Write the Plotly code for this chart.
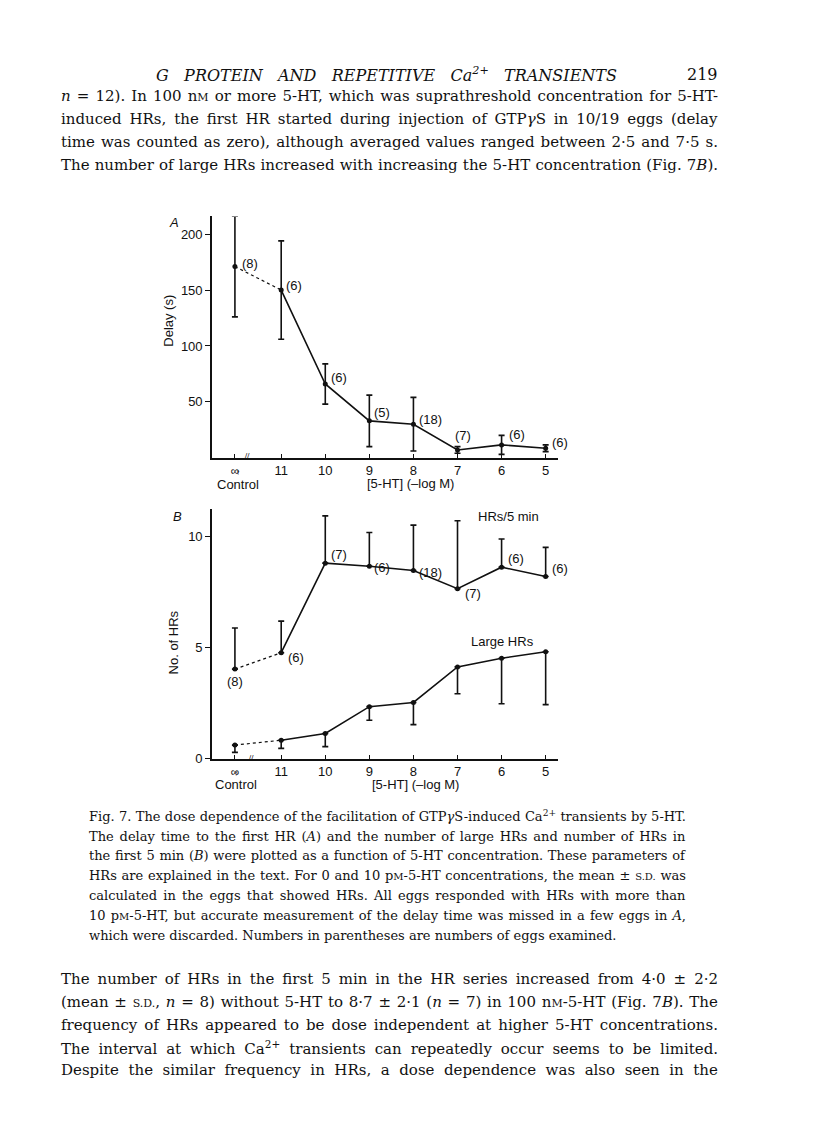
import json
import plotly.graph_objects as go

W, H = 816, 1141

# ---------------- data ----------------
x_pos = [12.05, 11, 10, 9, 8, 7, 6, 5]
x_ticktext = ["<span style='font-size:12px'>∞</span>", "11", "10", "9", "8", "7", "6", "5"]

delay_mean = [171, 150, 66, 33, 30, 7, 11.5, 8.5]
delay_sd = [45, 44, 18, 23, 24, 3, 8.5, 3]
delay_n = ["(8)", "(6)", "(6)", "(5)", "(18)", "(7)", "(6)", "(6)"]

hrs_mean = [4.03, 4.77, 8.80, 8.66, 8.47, 7.65, 8.62, 8.20]
hrs_sd = [1.85, 1.42, 2.13, 1.52, 2.04, 3.06, 1.27, 1.31]
hrs_n = ["(8)", "(6)", "(7)", "(6)", "(18)", "(7)", "(6)", "(6)"]

large_mean = [0.61, 0.83, 1.13, 2.34, 2.53, 4.13, 4.52, 4.81]
large_sd = [0.33, 0.37, 0.59, 0.61, 1.00, 1.21, 2.05, 2.38]

# label offsets (px) : (xshift, yshift, xanchor)
offA = [(5, 3, "left"), (3, 5, "left"), (4, 6, "left"), (3, 8, "left"),
        (4, 5, "left"), (5, 14, "center"), (5, 10, "left"), (4, 6, "left")]
offB = [(0, -12, "center"), (5, -5, "left"), (4, 9, "left"), (3, -1, "left"),
        (4, -2, "left"), (5, -5, "left"), (4, 9, "left"), (4, 8, "left")]

INK = "#111"
SANS = "Liberation Sans"
SERIF = "DejaVu Serif"


def px(x):
    return x / W


def py(y):
    return 1 - y / H


fig = go.Figure()

# ---------------- panel A ----------------
line_style = dict(color=INK, width=1.6)
fig.add_trace(go.Scatter(x=x_pos[:2], y=delay_mean[:2], mode="lines",
                         line=dict(color=INK, width=1.2, dash="dot"),
                         xaxis="x", yaxis="y", showlegend=False))
fig.add_trace(go.Scatter(x=x_pos[1:], y=delay_mean[1:], mode="lines",
                         line=line_style, xaxis="x", yaxis="y", showlegend=False))
fig.add_trace(go.Scatter(x=x_pos, y=delay_mean, mode="markers",
                         marker=dict(color=INK, size=5),
                         error_y=dict(type="data", array=delay_sd, visible=True,
                                      color=INK, thickness=1.6, width=3),
                         xaxis="x", yaxis="y", showlegend=False))

# ---------------- panel B ----------------
for ys in (hrs_mean, large_mean):
    fig.add_trace(go.Scatter(x=x_pos[:2], y=ys[:2], mode="lines",
                             line=dict(color=INK, width=1.2, dash="dot"),
                             xaxis="x2", yaxis="y2", showlegend=False))
    fig.add_trace(go.Scatter(x=x_pos[1:], y=ys[1:], mode="lines",
                             line=line_style, xaxis="x2", yaxis="y2", showlegend=False))
fig.add_trace(go.Scatter(x=x_pos, y=hrs_mean, mode="markers",
                         marker=dict(color=INK, size=5),
                         error_y=dict(type="data", symmetric=False, array=hrs_sd,
                                      arrayminus=[0] * len(hrs_sd), visible=True,
                                      color=INK, thickness=1.6, width=3),
                         xaxis="x2", yaxis="y2", showlegend=False))
fig.add_trace(go.Scatter(x=x_pos, y=large_mean, mode="markers",
                         marker=dict(color=INK, size=5),
                         error_y=dict(type="data", symmetric=False, array=[0] * len(large_sd),
                                      arrayminus=large_sd, visible=True,
                                      color=INK, thickness=1.6, width=3),
                         xaxis="x2", yaxis="y2", showlegend=False))

ann = []
for i, t in enumerate(delay_n):
    xs, ys_, xa = offA[i]
    ann.append(dict(x=x_pos[i], y=delay_mean[i], xref="x", yref="y", text=t,
                    showarrow=False, xanchor=xa, yanchor="middle", xshift=xs, yshift=ys_,
                    font=dict(family=SANS, size=13, color=INK)))
for i, t in enumerate(hrs_n):
    xs, ys_, xa = offB[i]
    ann.append(dict(x=x_pos[i], y=hrs_mean[i], xref="x2", yref="y2", text=t,
                    showarrow=False, xanchor=xa, yanchor="middle", xshift=xs, yshift=ys_,
                    font=dict(family=SANS, size=13, color=INK)))

axis_font = dict(family=SANS, size=13, color=INK)
xdom = [px(212), px(558)]
xr = [12.57, 4.72]
common_x = dict(range=xr, tickvals=x_pos, ticktext=x_ticktext, showline=True,
                linecolor=INK, linewidth=1.8, ticks="inside", ticklen=4, tickcolor=INK,
                tickfont=axis_font, showgrid=False, zeroline=False, fixedrange=True)
common_y = dict(showline=True, linecolor=INK, linewidth=1.6, ticks="outside", ticklen=5,
                tickcolor=INK, tickfont=axis_font, showgrid=False, zeroline=False)

fig.update_layout(
    width=W, height=H, margin=dict(l=0, r=0, t=0, b=0),
    paper_bgcolor="white", plot_bgcolor="rgba(0,0,0,0)",
    xaxis=dict(domain=xdom, anchor="y", **common_x),
    yaxis=dict(domain=[py(461), py(218)], range=[0, 215.8], tickvals=[50, 100, 150, 200],
               anchor="x", **common_y),
    xaxis2=dict(domain=xdom, anchor="y2", **common_x),
    yaxis2=dict(domain=[py(764), py(513)], range=[0, 11.22], tickvals=[0, 5, 10],
                anchor="x2", **common_y),
)

justify = []  # [annotation index, target width, mode]


def txt(x, y, s, size=13, family=SANS, xanchor="center", angle=0, italic=False,
        fit=None, mode="w"):
    if italic:
        s = "<i>" + s + "</i>"
    if fit:
        justify.append([len(ann), fit, mode])
    ann.append(dict(x=px(x), y=py(y), xref="paper", yref="paper", text=s, showarrow=False,
                    xanchor=xanchor, yanchor="middle", textangle=angle,
                    align="left" if xanchor == "left" else "center",
                    borderpad=0,
                    font=dict(family=family, size=size, color=INK)))

# panel A decorations
txt(174, 224, "A", size=13, italic=True)
txt(169, 323, "Delay (s)", size=13, angle=-90)
txt(238, 476, "↑", size=8)
txt(238, 488, "Control", size=13)
txt(410, 487, "[5-HT] (–log M)", size=13)
txt(248, 459, "//", size=8)
# panel B decorations
txt(177, 520, "B", size=13, italic=True)
txt(173, 647, "No. of HRs", size=13, angle=-90)
txt(236, 779, "↑", size=8)
txt(236, 790, "Control", size=13)
txt(415, 790, "[5-HT] (–log M)", size=13)
txt(251, 763, "//", size=8)
txt(508, 520, "HRs/5 min", size=13)
txt(502, 646, "Large HRs", size=13)

# page text
SC = "<span style='font-size:{}px'>{}</span>"
txt(155, 75, "<i>G PROTEIN AND REPETITIVE Ca<sup>2+</sup> TRANSIENTS</i>", size=16,
    family=SERIF, xanchor="left", fit=461)
txt(702, 75, "219", size=16, family=SERIF)

para1 = [
    "<i>n</i> = 12). In 100 n" + SC.format(11, "M") + " or more 5-HT, which was suprathreshold concentration for 5-HT-",
    "induced HRs, the first HR started during injection of GTP<i>γ</i>S in 10/19 eggs (delay",
    "time was counted as zero), although averaged values ranged between 2·5 and 7·5 s.",
    "The number of large HRs increased with increasing the 5-HT concentration (Fig. 7<i>B</i>).",
]
for i, s in enumerate(para1):
    txt(60, 97 + 23 * i, s, size=15, family=SERIF, xanchor="left", fit=657)

caption = [
    "Fig. 7. The dose dependence of the facilitation of GTP<i>γ</i>S-induced Ca<sup>2+</sup> transients by 5-HT.",
    "The delay time to the first HR (<i>A</i>) and the number of large HRs and number of HRs in",
    "the first 5 min (<i>B</i>) were plotted as a function of 5-HT concentration. These parameters of",
    "HRs are explained in the text. For 0 and 10 p" + SC.format(10, "M") + "-5-HT concentrations, the mean ± " + SC.format(10, "S.D.") + " was",
    "calculated in the eggs that showed HRs. All eggs responded with HRs with more than",
    "10 p" + SC.format(10, "M") + "-5-HT, but accurate measurement of the delay time was missed in a few eggs in <i>A</i>,",
    "which were discarded. Numbers in parentheses are numbers of eggs examined.",
]
for i, s in enumerate(caption):
    last = i == len(caption) - 1
    txt(88, 822 + 20 * i, s, size=13, family=SERIF, xanchor="left",
        fit=None if last else 597)

para2 = [
    "The number of HRs in the first 5 min in the HR series increased from 4·0 ± 2·2",
    "(mean ± " + SC.format(11, "S.D.") + ", <i>n</i> = 8) without 5-HT to 8·7 ± 2·1 (<i>n</i> = 7) in 100 n" + SC.format(11, "M") + "-5-HT (Fig. 7<i>B</i>). The",
    "frequency of HRs appeared to be dose independent at higher 5-HT concentrations.",
    "The interval at which Ca<sup>2+</sup> transients can repeatedly occur seems to be limited.",
    "Despite the similar frequency in HRs, a dose dependence was also seen in the",
]
for i, s in enumerate(para2):
    txt(60, 986 + 23 * i, s, size=15, family=SERIF, xanchor="left", fit=657)

fig.update_layout(annotations=ann)

post = """
document.body.style.margin = '0';
document.body.style.padding = '0';
var gd = document.getElementById('{plot_id}');
var J = %s;
J.forEach(function(j){
  var el = gd.querySelector('g.annotation[data-index="' + j[0] + '"] text.annotation-text');
  if (!el) return;
  var w = el.getBBox().width;
  var t = el.textContent;
  if (j[2] === 'w') {
    var n = (t.match(/ /g) || []).length;
    if (n > 0) el.style.wordSpacing = ((j[1] - w) / n) + 'px';
  } else {
    var n2 = t.length - 1;
    if (n2 > 0) el.style.letterSpacing = ((j[1] - w) / n2) + 'px';
  }
});
""" % json.dumps(justify)

fig.write_html("out.html", post_script=post, config={"displayModeBar": False})
